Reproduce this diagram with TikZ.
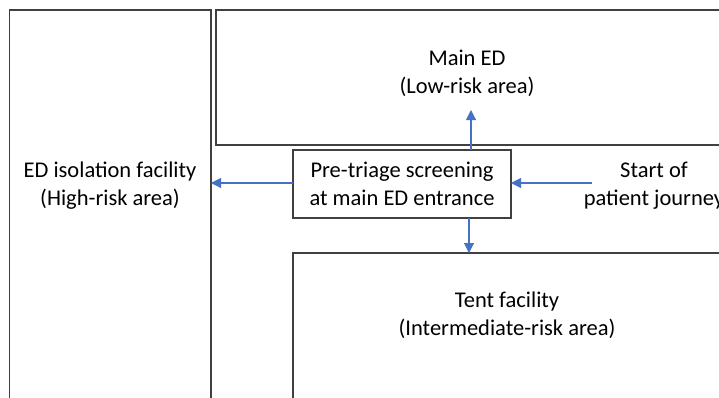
\documentclass[tikz,border=0pt]{standalone}
\usepackage{fontspec}
\setmainfont{Carlito}
\usepackage{xcolor}
\usepackage{tikz}
\usetikzlibrary{arrows.meta, positioning, calc}
\definecolor{boxline}{HTML}{404040}
\definecolor{flowblue}{HTML}{4472C4}

\begin{document}
\begin{tikzpicture}[x=1pt, y=-1pt,
    area/.style={rectangle, draw=boxline, line width=1.3pt, fill=none, inner sep=0pt, outer sep=0pt},
    screen/.style={rectangle, draw=boxline, line width=1.3pt, fill=white, minimum width=218pt, minimum height=68pt, inner sep=0pt, outer sep=0pt, align=center, font=\fontsize{22.5}{28}\selectfont},
    label/.style={align=center, font=\fontsize{22.5}{28}\selectfont, inner sep=0pt},
    arrow/.style={-{Triangle[length=10pt, width=10pt]}, flowblue, line width=1.1pt}
]
\useasboundingbox (0,0) rectangle (719,397);
\clip (0,0) rectangle (719,397);

% Areas (run off the page)
\node[area, minimum width=201.5pt, minimum height=410pt] (iso) at (110.25,215) {};
\node[area, minimum width=544pt, minimum height=135pt] (main) at (488,77.5) {};
\node[area, minimum width=467pt, minimum height=167pt] (tent) at (526.5,336.5) {};

% Screening in the middle
\node[screen] (pre) at (402,184) {Pre-triage screening\\at main ED entrance};

% Area labels
\node[label] (l-iso) at (110,186) {ED isolation facility\\(High-risk area)};
\node[label] (l-main) at (467,73) {Main ED\\(Low-risk area)};
\node[label] (l-tent) at (507,315) {Tent facility\\(Intermediate-risk area)};
\node[label] (l-start) at (654,186) {Start of\\patient journey};

\coordinate (start) at (592,183);
\coordinate (maintip) at (471,110);

% Flow
\draw[arrow] (start) -- (start -| pre.east);
\draw[arrow] (pre.north -| maintip) -- (maintip);
\draw[arrow] (start -| pre.west) -- (start -| iso.east);
\draw[arrow] ([xshift=67pt]pre.south) -- ([xshift=67pt]pre.south |- tent.north);
\end{tikzpicture}
\end{document}
